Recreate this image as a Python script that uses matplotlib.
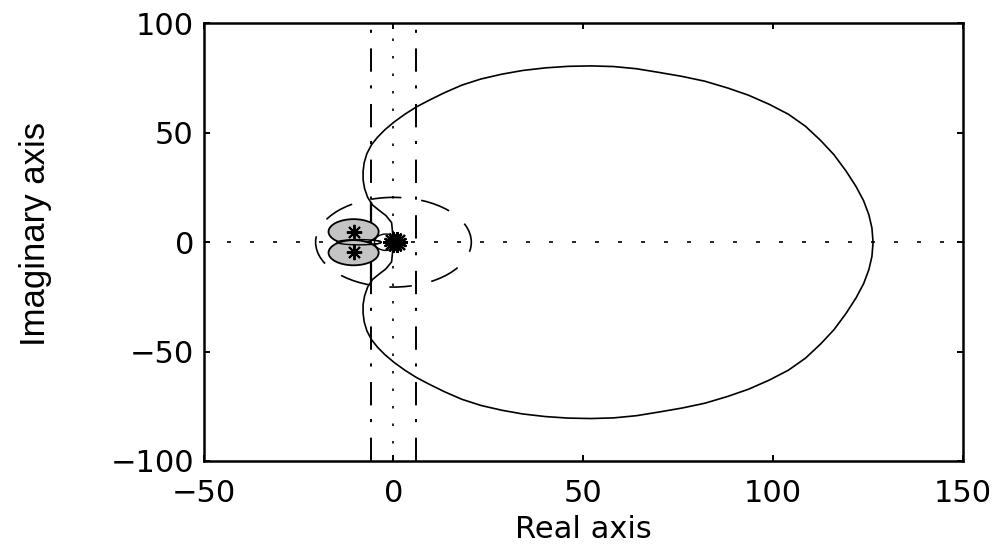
import numpy as np
import matplotlib.pyplot as plt
from matplotlib.patches import Ellipse

# upper branch of the Nyquist curve (the lower branch is its mirror image)
re_upper = [0.0, -0.2, -0.5, -2.0, -3.8, -5.5, -6.8, -7.6, -8.0, -8.0, -7.7, -7.0,
            -5.8, -4.2, -2.2, 0.2, 3.0, 6.0, 9.5, 13.5, 18.0, 23.0, 28.5, 34.0,
            40.0, 46.0, 52.0, 58.0, 64.0, 70.0, 76.0, 82.0, 88.0, 93.5, 99.0,
            104.0, 108.5, 112.5, 116.0, 119.2, 121.8, 123.8, 125.2, 126.0, 126.3]
im_upper = [0.0, 4.0, 9.0, 12.2, 14.6, 17.0, 20.5, 24.5, 28.5, 32.5, 36.5, 40.5,
            44.5, 48.0, 51.5, 55.0, 58.5, 61.8, 65.0, 68.4, 71.8, 74.6, 76.8, 78.5,
            79.7, 80.4, 80.6, 80.3, 79.3, 77.6, 75.8, 73.6, 70.5, 67.2, 63.0,
            58.5, 53.0, 46.5, 40.0, 32.5, 25.5, 19.0, 12.5, 6.5, 0.0]

# poles near the origin and the pair of shaded regions
pole_re = [-10.5, -10.5]
pole_im = [4.5, -4.5]
origin_re = [0.0, 1.0]
origin_im = [0.0, 0.0]
lobe_center_re = [-10.5, -10.5]
lobe_center_im = [4.8, -4.8]
lobe_width = 13.2
lobe_height = 11.5

# small inner loops of the curve
loop_centers = [(-9.0, 0.0), (-2.0, 0.0)]
loop_sizes = [(11.6, 2.4), (6.0, 7.5)]

# dashed circle, stability boundaries, solid segment at the left boundary
circle_radius = 20.5
boundary_re = [-6.0, 6.0]
segment_re = -6.0
segment_im = [-18.0, 18.0]

plt.rcParams['font.family'] = 'DejaVu Sans'

fig = plt.figure(figsize=(10.01, 5.52), dpi=100)
ax = fig.add_axes([0.2034, 0.1649, 0.7587, 0.7926])

lw = 1.2
ax.axhline(0, color='black', lw=lw, linestyle=(0, (2.4, 11.4)), zorder=1)
ax.axvline(0, color='black', lw=lw, linestyle=(0, (1.5, 9.0)), zorder=1)
for xb in boundary_re:
    ax.axvline(xb, color='black', lw=1.4, linestyle=(0, (12.0, 8.0, 1.6, 7.0)), zorder=1)
ax.plot([segment_re, segment_re], segment_im, color='black', lw=1.6, zorder=2)

circ = Ellipse((0, 0), 2 * circle_radius, 2 * circle_radius, fill=False,
               edgecolor='black', lw=lw, linestyle=(7, (18, 12)), zorder=2)
ax.add_patch(circ)

for (cx, cy), (w, h) in zip(loop_centers, loop_sizes):
    ax.add_patch(Ellipse((cx, cy), w, h, fill=False, edgecolor='black', lw=1.0, zorder=3))

for cx, cy in zip(lobe_center_re, lobe_center_im):
    ax.add_patch(Ellipse((cx, cy), lobe_width, lobe_height, facecolor='#c4c4c4',
                         edgecolor='black', lw=1.3, zorder=3))
# lens where the two shaded regions meet
ax.add_patch(Ellipse(loop_centers[0], *loop_sizes[0], fill=False, edgecolor='black',
                     lw=1.0, zorder=4))

re = np.array(re_upper)
im = np.array(im_upper)
ax.plot(re, im, color='black', lw=lw, zorder=5)
ax.plot(re, -im, color='black', lw=lw, zorder=5)

ax.plot(pole_re, pole_im, linestyle='none', marker=(8, 2, 0), markersize=11,
        color='black', markeredgewidth=1.4, zorder=6)
ax.plot(origin_re, origin_im, linestyle='none', marker=(8, 2, 0), markersize=15,
        color='black', markeredgewidth=1.6, zorder=6)
ax.plot(origin_re, origin_im, linestyle='none', marker=(8, 2, 22.5), markersize=14,
        color='black', markeredgewidth=1.6, zorder=6)

ax.set_xlim(-50, 150)
ax.set_ylim(-100, 100)
ax.set_xticks([-50, 0, 50, 100, 150])
ax.set_yticks([-100, -50, 0, 50, 100])
ax.tick_params(direction='in', length=4, width=1.4, top=True, right=True, labelsize=22)
ax.tick_params(axis='x', pad=13)
ax.tick_params(axis='y', pad=7)
for s in ax.spines.values():
    s.set_linewidth(1.8)

ax.set_xlabel('Real axis', fontsize=22)
ax.set_ylabel('Imaginary axis', fontsize=25, family='Liberation Sans')
ax.xaxis.set_label_coords(0.5, -0.1245)
ax.yaxis.set_label_coords(-0.20, 0.52)

fig.savefig('out.png', dpi=100)
